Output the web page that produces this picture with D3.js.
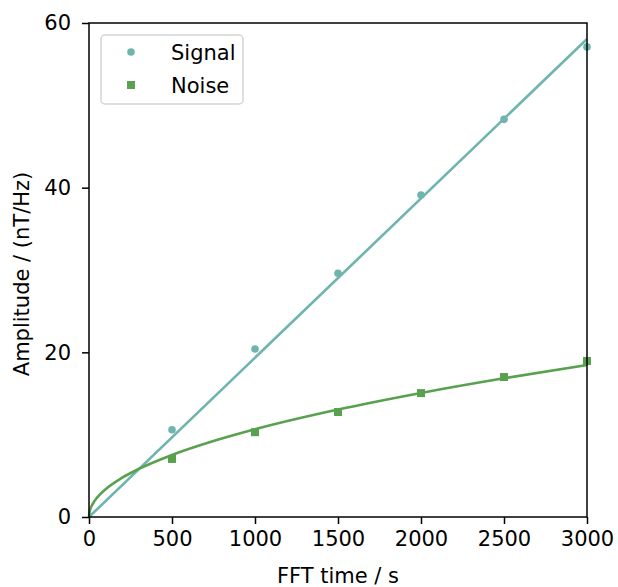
<!DOCTYPE html>
<html>
<head>
<meta charset="utf-8">
<script src="https://cdn.jsdelivr.net/npm/d3@7"></script>
<style>
  body { margin: 0; background: #fff; }
  text { font-family: "DejaVu Sans", sans-serif; }
</style>
</head>
<body>
<div id="chart"></div>
<script>
// measured values
const fftTimes = [500, 1000, 1500, 2000, 2500, 3000];
const signalAmp = [10.6, 20.4, 29.6, 39.1, 48.3, 57.1];
const noiseAmp = [7.05, 10.3, 12.75, 15.05, 17.0, 18.95];

// fit curves
const signalFitTimes = [0, 3000];
const signalFitAmp = [0, 58.05];
const noiseFitTimes = [0, 5, 20, 50, 100, 200, 300, 500, 750, 1000, 1500, 2000, 2500, 3000];
const noiseFitAmp = [0, 0.75, 1.5, 2.38, 3.37, 4.77, 5.84, 7.54, 9.23, 10.66, 13.05, 15.07, 16.85, 18.46];

const xTicks = [0, 500, 1000, 1500, 2000, 2500, 3000];
const yTicks = [0, 20, 40, 60];
const seriesNames = ["Signal", "Noise"];

const WIDTH = 618, HEIGHT = 587;
const MARGIN = { left: 89, top: 23, right: 31, bottom: 70 };
const W = WIDTH - MARGIN.left - MARGIN.right;
const H = HEIGHT - MARGIN.top - MARGIN.bottom;
const TEAL = "#6fb5ad", GREEN = "#58a14e";
const FS = 21;

let svg = d3.select("#chart").append("svg")
  .attr("width", WIDTH)
  .attr("height", HEIGHT);

let g = svg.append("g")
  .attr("transform", "translate(" + MARGIN.left + "," + MARGIN.top + ")");

let xScale = d3.scaleLinear().domain([0, 3000]).range([0, W]);
let yScale = d3.scaleLinear().domain([0, 60]).range([H, 0]);

// fit lines
const line = d3.line()
  .x(d => xScale(d[0]))
  .y(d => yScale(d[1]))
  .curve(d3.curveMonotoneX);

g.append("path")
  .datum(signalFitTimes.map((t, i) => [t, signalFitAmp[i]]))
  .attr("d", line)
  .attr("fill", "none")
  .attr("stroke", TEAL)
  .attr("stroke-width", 2.6);

g.append("path")
  .datum(noiseFitTimes.map((t, i) => [t, noiseFitAmp[i]]))
  .attr("d", line)
  .attr("fill", "none")
  .attr("stroke", GREEN)
  .attr("stroke-width", 2.6);

// points
g.selectAll(".sig")
  .data(fftTimes.map((t, i) => [t, signalAmp[i]]))
  .enter().append("circle")
  .attr("class", "sig")
  .attr("cx", d => xScale(d[0]))
  .attr("cy", d => yScale(d[1]))
  .attr("r", 3.8)
  .attr("fill", TEAL);

const SQ = 8;
g.selectAll(".noi")
  .data(fftTimes.map((t, i) => [t, noiseAmp[i]]))
  .enter().append("rect")
  .attr("class", "noi")
  .attr("x", d => xScale(d[0]) - SQ / 2)
  .attr("y", d => yScale(d[1]) - SQ / 2)
  .attr("width", SQ)
  .attr("height", SQ)
  .attr("fill", GREEN);

// axes
let xAxis = g.append("g")
  .attr("transform", "translate(0," + H + ")")
  .call(d3.axisBottom(xScale).tickValues(xTicks).tickFormat(d3.format("d"))
    .tickSize(7).tickPadding(7));
let yAxis = g.append("g")
  .call(d3.axisLeft(yScale).tickValues(yTicks).tickFormat(d3.format("d"))
    .tickSize(7).tickPadding(11));

[xAxis, yAxis].forEach(a => {
  a.select(".domain").remove();
  a.selectAll("line").attr("stroke", "#000").attr("stroke-width", 1.5);
  a.selectAll("text").attr("font-size", FS).attr("fill", "#000")
    .style("font-family", "DejaVu Sans");
});

// frame
g.append("rect")
  .attr("width", W).attr("height", H)
  .attr("fill", "none")
  .attr("stroke", "#000")
  .attr("stroke-width", 1.5);

// axis labels
svg.append("text")
  .attr("x", MARGIN.left + W / 2)
  .attr("y", 583)
  .attr("text-anchor", "middle")
  .attr("font-size", FS)
  .text("FFT time / s");

svg.append("text")
  .attr("transform", "rotate(-90)")
  .attr("x", -274)
  .attr("y", 29)
  .attr("text-anchor", "middle")
  .attr("font-size", FS)
  .text("Amplitude / (nT/Hz)");

// legend
let lg = svg.append("g").attr("transform", "translate(101,35)");
lg.append("rect")
  .attr("width", 142).attr("height", 69)
  .attr("rx", 4)
  .attr("fill", "#fff")
  .attr("fill-opacity", 0.8)
  .attr("stroke", "#d5d5d5")
  .attr("stroke-width", 1.5);

seriesNames.forEach((name, i) => {
  let row = lg.append("g").attr("transform", "translate(0," + (17 + i * 33) + ")");
  if (i === 0) {
    row.append("circle").attr("cx", 30).attr("cy", 0).attr("r", 3.8).attr("fill", TEAL);
  } else {
    row.append("rect").attr("x", 30 - SQ / 2).attr("y", -SQ / 2)
      .attr("width", SQ).attr("height", SQ).attr("fill", GREEN);
  }
  row.append("text")
    .attr("x", 70)
    .attr("y", 0)
    .attr("dy", "0.36em")
    .attr("font-size", FS)
    .text(name);
});
</script>
</body>
</html>
